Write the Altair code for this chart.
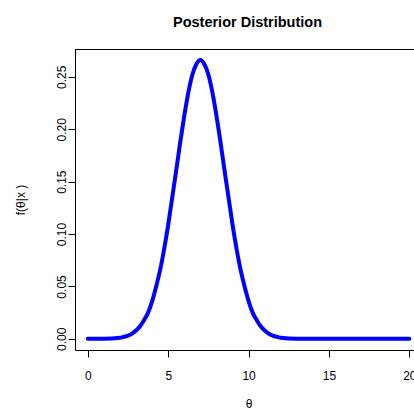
import altair as alt
import pandas as pd

# Posterior density f(theta | x) evaluated on a grid of theta values
theta = [0, 1, 2, 2.25, 2.5, 2.75, 3, 3.25, 3.5, 3.75, 4, 4.25, 4.5, 4.75,
         5, 5.25, 5.5, 5.75, 6, 6.25, 6.5, 6.75, 7, 7.25, 7.5, 7.75, 8,
         8.25, 8.5, 8.75, 9, 9.25, 9.5, 9.75, 10, 10.25, 10.5, 10.75, 11,
         11.25, 11.5, 11.75, 12, 13, 14, 15, 16, 17, 18, 19, 20]
density = [0.000, 0.000, 0.001, 0.002, 0.003, 0.005, 0.008, 0.012, 0.018,
           0.025, 0.036, 0.050, 0.066, 0.086, 0.109, 0.135, 0.161, 0.188,
           0.213, 0.235, 0.252, 0.262, 0.266, 0.262, 0.252, 0.235, 0.213,
           0.188, 0.161, 0.135, 0.109, 0.086, 0.066, 0.050, 0.036, 0.025,
           0.018, 0.012, 0.008, 0.005, 0.003, 0.002, 0.001, 0.000, 0.000,
           0.000, 0.000, 0.000, 0.000, 0.000, 0.000]

x_ticks = [0, 5, 10, 15, 20]
y_ticks = [0.00, 0.05, 0.10, 0.15, 0.20, 0.25]

df = pd.DataFrame({"theta": theta, "density": density})

W, H = 339, 301
FONT = "Liberation Sans"

x_scale = alt.Scale(domain=[-0.8, 20.29], nice=False, zero=False)
y_scale = alt.Scale(domain=[-0.01064, 0.2766], nice=False, zero=False)

curve = alt.Chart(df).mark_line(
    color="#0000FF", strokeWidth=4, strokeCap="round", strokeJoin="round",
    interpolate="monotone"
).encode(
    x=alt.X("theta:Q", scale=x_scale,
            axis=alt.Axis(title="θ", values=x_ticks, format="d",
                          domain=True, domainColor="black", domainWidth=1,
                          ticks=True, tickColor="black", tickSize=7, tickWidth=1,
                          grid=False, labelFont=FONT, labelFontSize=12,
                          labelColor="black", labelBaseline="alphabetic",
                          labelPadding=22, labelFlush=False, labelOverlap=False,
                          titleFont=FONT, titleFontSize=12, titleFontWeight="normal",
                          titleColor="black", titleBaseline="alphabetic",
                          titleX=173.5, titleY=57.5)),
    y=alt.Y("density:Q", scale=y_scale,
            axis=alt.Axis(title="f(θ|x )", values=y_ticks, format=".2f",
                          domain=True, domainColor="black", domainWidth=1,
                          ticks=True, tickColor="black", tickSize=7, tickWidth=1,
                          grid=False, labelFont=FONT, labelFontSize=12,
                          labelColor="black", labelAngle=270, labelAlign="center",
                          labelBaseline="alphabetic", labelPadding=3,
                          labelFlush=False, labelOverlap=False,
                          titleFont=FONT, titleFontSize=12, titleFontWeight="normal",
                          titleColor="black", titleAngle=270, titleAlign="center",
                          titleBaseline="alphabetic", titleX=-51, titleY=150.5)),
)

# top edge of the plot box
top_edge = alt.Chart(df).mark_rule(color="black", strokeWidth=1).encode(
    x=alt.value(0), x2=alt.value(W), y=alt.value(0.5)
)

chart = alt.layer(curve, top_edge).properties(
    width=W, height=H,
    title=alt.TitleParams("Posterior Distribution", font=FONT, fontSize=14.5,
                          fontWeight="bold", color="black", anchor="middle",
                          baseline="alphabetic", offset=8, dx=3),
    autosize=alt.AutoSizeParams(type="none"),
    padding={"left": 75, "top": 49, "right": 0, "bottom": 60},
).configure_view(stroke=None).configure(background="white")

chart.save("out.html", embed_options={"renderer": "svg", "actions": False})
